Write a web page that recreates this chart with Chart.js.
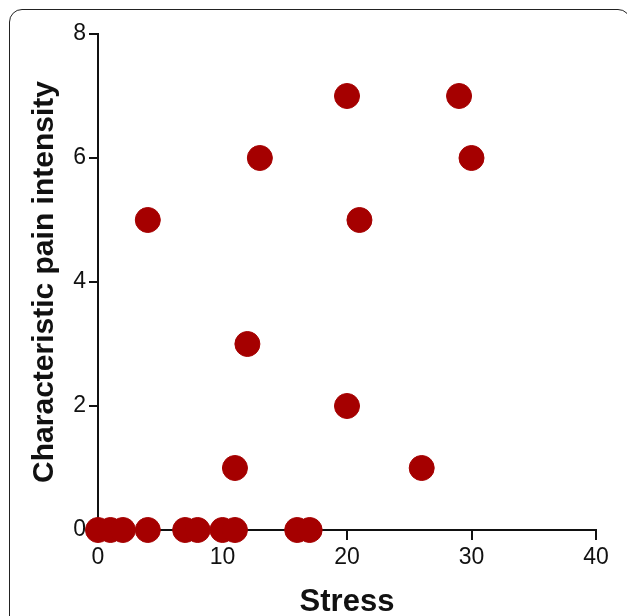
<!DOCTYPE html>
<html>
<head>
<meta charset="utf-8">
<script src="https://cdn.jsdelivr.net/npm/chart.js@4"></script>
<style>
  html, body { margin: 0; padding: 0; background: #fff; }
  #wrap { position: relative; width: 627px; height: 616px; overflow: hidden; }
  #frame {
    position: absolute; left: 9px; top: 9px; width: 620px; height: 640px;
    border: 1.5px solid #222; border-radius: 13px; pointer-events: none;
  }
  canvas { position: absolute; left: 0; top: 0; }
</style>
</head>
<body>
<div id="wrap">
  <canvas id="scatter" width="627" height="616"></canvas>
  <div id="frame"></div>
</div>
<script>
var stress = [0, 1, 2, 4, 7, 8, 10, 11, 16, 17, 4, 13, 20, 29, 30, 21, 12, 20, 11, 26];
var pain   = [0, 0, 0, 0, 0, 0, 0, 0, 0, 0, 5, 6, 7, 7, 6, 5, 3, 2, 1, 1];
var xTicks = [0, 10, 20, 30, 40];
var yTicks = [0, 2, 4, 6, 8];

var points = stress.map(function (s, i) { return { x: s, y: pain[i] }; });

var ctx = document.getElementById('scatter').getContext('2d');
var chart = new Chart(ctx, {
    type: 'scatter',
    data: {
        datasets: [{
            label: 'Pain vs stress',
            data: points,
            backgroundColor: '#a50000',
            borderColor: '#a50000',
            pointRadius: 12.5,
            pointHoverRadius: 12.5,
            clip: false
        }]
    },
    options: {
        responsive: false,
        animation: false,
        layout: {
            padding: { left: 0, top: 34, right: 31, bottom: 0 }
        },
        plugins: {
            legend: { display: false },
            tooltip: { enabled: false }
        },
        scales: {
            x: {
                type: 'linear',
                min: 0,
                max: 40,
                afterBuildTicks: function (scale) {
                    scale.ticks = xTicks.map(function (v) { return { value: v }; });
                },
                afterFit: function (scale) { scale.height = 86; },
                border: { display: true, color: '#111', width: 2 },
                grid: { drawOnChartArea: false, drawTicks: true, tickLength: 10, color: '#111', lineWidth: 2 },
                ticks: { color: '#111', padding: 4, font: { family: 'Liberation Sans', size: 23 } },
                title: {
                    display: true,
                    text: 'Stress',
                    color: '#111',
                    padding: { top: 0, bottom: -5 },
                    font: { family: 'Liberation Sans', size: 31, weight: 'bold' }
                }
            },
            y: {
                type: 'linear',
                min: 0,
                max: 8,
                afterBuildTicks: function (scale) {
                    scale.ticks = yTicks.map(function (v) { return { value: v }; });
                },
                afterFit: function (scale) { scale.width = 98; },
                border: { display: true, color: '#111', width: 2 },
                grid: { drawOnChartArea: false, drawTicks: true, tickLength: 9, color: '#111', lineWidth: 2 },
                ticks: { color: '#111', padding: 3, font: { family: 'Liberation Sans', size: 23 } },
                title: {
                    display: true,
                    text: 'Characteristic pain intensity',
                    color: '#111',
                    padding: { top: 27, bottom: 0 },
                    font: { family: 'Liberation Sans', size: 30, weight: 'bold' }
                }
            }
        }
    }
});
</script>
</body>
</html>
